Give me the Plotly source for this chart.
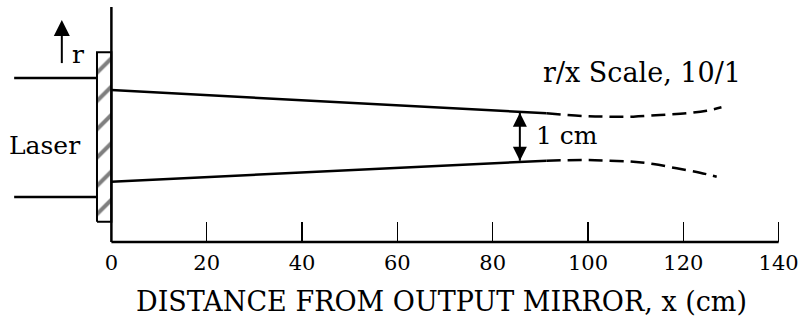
import plotly.graph_objects as go

# ---------------- data (x in cm along the beam, r in cm radial) ----------------
x_tick_vals = [0, 20, 40, 60, 80, 100, 120, 140]
x_tick_text = ["0", "20", "40", "60", "80", "100", "120", "140"]

upper_solid_x = [0, 91.3]
upper_solid_r = [0.965, 0.476]
upper_dash_x = [91.3, 99.0, 104.6, 109.5, 115.1, 120.7, 124.9, 128.0]
upper_dash_r = [0.476, 0.420, 0.405, 0.405, 0.441, 0.476, 0.531, 0.602]

lower_solid_x = [0, 91.3]
lower_solid_r = [-0.959, -0.518]
lower_dash_x = [91.3, 99.0, 104.6, 109.5, 113.7, 118.6, 123.5, 127.0]
lower_dash_r = [-0.518, -0.504, -0.518, -0.539, -0.587, -0.678, -0.770, -0.854]

laser_x = [-20.4, -3.02]
laser_top_r = 1.217
laser_bot_r = -1.28

mirror_x = [-3.02, 0.0]
mirror_r = [-1.80, 1.76]

axis_bottom_r = -2.224
axis_top_r = 2.707
axis_x_end = 140

r_arrow_x = -10.4
r_arrow_r = [1.53, 2.434]
cm_arrow_x = 85.7
cm_arrow_r = [0.489, -0.518]

# ---------------- figure ----------------
FONT = "DejaVu Serif"
BLACK = "black"
fig = go.Figure()

def line(x, y, width=2.5, dash="solid"):
    fig.add_trace(go.Scatter(x=x, y=y, mode="lines", line=dict(color=BLACK, width=width, dash=dash),
                             hoverinfo="skip", showlegend=False))

# mirror (hatched)
fig.add_trace(go.Scatter(
    x=[mirror_x[0], mirror_x[1], mirror_x[1], mirror_x[0], mirror_x[0]],
    y=[mirror_r[0], mirror_r[0], mirror_r[1], mirror_r[1], mirror_r[0]],
    mode="lines", fill="toself", fillcolor="white",
    fillpattern=dict(shape="/", size=20, solidity=0.2, fgcolor=BLACK, bgcolor="white"),
    line=dict(color=BLACK, width=2), hoverinfo="skip", showlegend=False))

# laser tube
line(laser_x, [laser_top_r, laser_top_r])
line(laser_x, [laser_bot_r, laser_bot_r])

# axes
line([0, 0], [axis_bottom_r, axis_top_r], width=2.5)
line([0, axis_x_end], [axis_bottom_r, axis_bottom_r], width=2.5)

# beam envelope
line(upper_solid_x, upper_solid_r, width=2.5)
line(lower_solid_x, lower_solid_r, width=2.5)
for xs, rs in [(upper_dash_x, upper_dash_r), (lower_dash_x, lower_dash_r)]:
    fig.add_trace(go.Scatter(x=xs, y=rs, mode="lines",
                             line=dict(color=BLACK, width=2.5, dash="14px,7px", shape="spline"),
                             hoverinfo="skip", showlegend=False))

# r arrow
line([r_arrow_x, r_arrow_x], [r_arrow_r[0], r_arrow_r[1] - 0.25], width=2)
fig.add_trace(go.Scatter(x=[r_arrow_x], y=[r_arrow_r[1]], mode="markers",
                         marker=dict(symbol="arrow-up", size=16, color=BLACK),
                         cliponaxis=False, hoverinfo="skip", showlegend=False))
# 1 cm double arrow
line([cm_arrow_x, cm_arrow_x], cm_arrow_r, width=2)
fig.add_trace(go.Scatter(x=[cm_arrow_x, cm_arrow_x], y=cm_arrow_r, mode="markers",
                         marker=dict(symbol=["arrow-up", "arrow-down"], size=14, color=BLACK),
                         cliponaxis=False, hoverinfo="skip", showlegend=False))

annos = [
    dict(text="r", x=-7.0, y=1.72, xanchor="center", size=25),
    dict(text="Laser", x=-14.0, y=-0.19, xanchor="center", size=25),
    dict(text="r/x Scale, 10/1", x=111.3, y=1.34, xanchor="center", size=27),
    dict(text="1 cm", x=88.6, y=0.02, xanchor="left", size=25),
]
for a in annos:
    fig.add_annotation(text=a["text"], x=a["x"], y=a["y"], xref="x", yref="y",
                       xanchor=a["xanchor"], yanchor="middle", showarrow=False,
                       font=dict(family=FONT, size=a["size"], color=BLACK))

fig.add_annotation(text="DISTANCE FROM OUTPUT MIRROR, x (cm)", xref="paper", yref="paper",
                   x=441 / 800, y=(256 - 301) / 256, xanchor="center", yanchor="middle",
                   showarrow=False, font=dict(family=FONT, size=27, color=BLACK))

fig.update_layout(
    width=800, height=322,
    margin=dict(l=0, r=0, t=0, b=66, autoexpand=False),
    paper_bgcolor="white", plot_bgcolor="white",
    showlegend=False,
    xaxis=dict(range=[-23.37, 144.48], showgrid=False, zeroline=False, showline=False,
               anchor="free", position=(256 - 242) / 256, automargin=False,
               tickmode="array", tickvals=x_tick_vals, ticktext=x_tick_text,
               ticks="inside", ticklen=20, tickwidth=1.5, tickcolor=BLACK,
               ticklabelstandoff=6,
               tickfont=dict(family=FONT, size=21, color=BLACK), fixedrange=True),
    yaxis=dict(range=[-2.518, 2.854], visible=False, showgrid=False, zeroline=False,
               fixedrange=True, automargin=False),
)

fig.write_html("out.html", config={"displayModeBar": False, "staticPlot": True},
               post_script="document.body.style.margin='0px';document.body.style.padding='0px';")
